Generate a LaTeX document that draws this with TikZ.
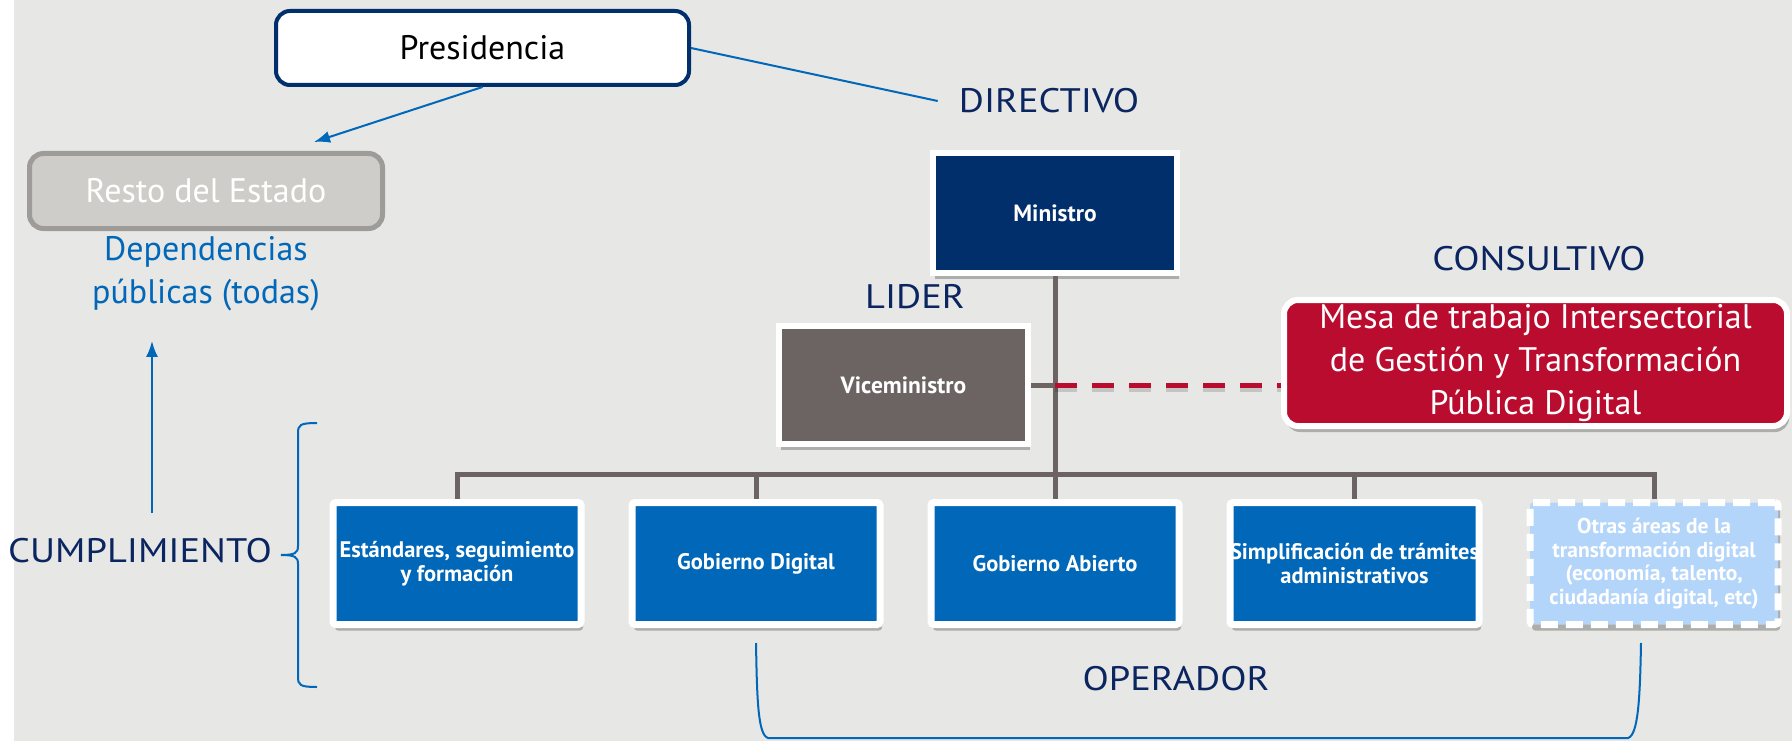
\documentclass[tikz,border=0pt]{standalone}
\usepackage{fontspec}
\setmainfont{PT Sans}
\newfontfamily\anchas[FakeStretch=1.13]{PT Sans}
\usetikzlibrary{positioning,calc,shadows,arrows.meta}
\definecolor{fondo}{HTML}{E7E7E5}
\definecolor{marino}{HTML}{002F6C}
\definecolor{tinta}{HTML}{0B2560}
\definecolor{azul}{HTML}{0067B9}
\definecolor{pardo}{HTML}{6B6462}
\definecolor{carmin}{HTML}{BA0C2F}
\definecolor{celeste}{HTML}{B4D5FA}
\definecolor{piedra}{HTML}{CFCDC9}
\definecolor{borde}{HTML}{9D9C99}
\tikzset{
  pr/.style={rectangle, rounded corners=14pt, minimum width=413pt, minimum height=74pt, text centered, draw=marino, line width=4pt, fill=white, font=\fontsize{34}{40}\selectfont},
  gr/.style={rectangle, rounded corners=14pt, minimum width=353pt, minimum height=75pt, text centered, draw=borde, line width=5pt, fill=piedra, text=white, font=\fontsize{34}{40}\selectfont},
  sb/.style={drop shadow={shadow xshift=2pt, shadow yshift=-6pt, opacity=.25, fill=black}},
  jf/.style={rectangle, minimum width=244pt, minimum height=120pt, text centered, draw=white, line width=6pt, fill=marino, text=white, font=\fontsize{23.5}{24}\bfseries, sb},
  vc/.style={jf, minimum width=249pt, minimum height=118pt, fill=pardo},
  ms/.style={rectangle, rounded corners=14pt, minimum width=503pt, minimum height=126pt, align=center, draw=white, line width=6pt, fill=carmin, text=white, font=\fontsize{34}{43}\selectfont, sb},
  op/.style={rectangle, rounded corners=3pt, minimum width=248pt, minimum height=122pt, inner xsep=0pt, align=center, draw=white, line width=7pt, fill=azul, text=white, font=\fontsize{22.5}{24}\bfseries, sb},
  ot/.style={op, fill=celeste, dash pattern=on 17pt off 8pt, font=\fontsize{21.5}{23.5}\bfseries},
  etq/.style={inner sep=0pt, text=tinta, font=\fontsize{34}{40}\anchas},
  dep/.style={inner sep=0pt, align=center, text=azul, font=\fontsize{34}{43}\selectfont},
  tr/.style={draw=pardo, line width=5pt},
  rojo/.style={draw=carmin, line width=5pt, dash pattern=on 22pt off 15pt, preaction={draw=black, opacity=.15, line width=5pt, dash pattern=on 22pt off 15pt, transform canvas={yshift=-4pt}}},
  fino/.style={draw=azul, line width=2pt},
  flecha/.style={fino, -{Latex[length=16pt,width=12pt]}},
  node distance=44pt
}
\begin{document}
\begin{tikzpicture}[x=1pt,y=-1pt]
	\useasboundingbox (0,0) rectangle (1792,741);
	\fill[white] (0,0) rectangle (14,741);
	\fill[fondo] (14,0) rectangle (1792,741);
	%
	\node[pr] (pres) at (482.5,48) {Presidencia};
	\node[gr] (resto) at (206,191) {Resto del Estado};
	\node[dep, below=5pt of resto] (dep) {Dependencias\\públicas (todas)};
	\node[etq] (dir) at (1049,101) {DIRECTIVO};
	\node[jf] (min) at (1055,213) {Ministro};
	\node[etq] (lid) at (915,297) {LIDER};
	\node[etq] (con) at (1539,259) {CONSULTIVO};
	\node[vc] (vice) at (903.5,385) {Viceministro};
	\node[ms] (mesa) at (1535.5,363) {Mesa de trabajo Intersectorial\\de Gestión y Transformación\\Pública Digital};
	%
	\node[op] (ga) at (1055,563.5) {Gobierno Abierto};
	\node[op, left=of ga] (gd) {Gobierno Digital};
	\node[op, left=of gd] (est) {Estándares, seguimiento\\y formación};
	\node[op, right=of ga] (sim) {Simplificación de trámites\\administrativos};
	\node[ot, right=of sim] (otr) {Otras áreas de la\\transformación digital\\(economía, talento,\\ciudadanía digital, etc)};
	\node[etq] (cum) at (140,551) {CUMPLIMIENTO};
	\node[etq] (ope) at (1176,679) {OPERADOR};
	%
	\coordinate (bus) at (0,474);
	\draw[tr] (min.south) -- (min.south |- bus);
	\draw[tr, line cap=rect] (est.north |- bus) -- (otr.north |- bus);
	\foreach \n in {est,gd,ga,sim,otr}
		\draw[tr] (\n.north |- bus) -- (\n.north);
	\draw[tr] (vice.east) -- (vice.east -| min.south);
	\draw[rojo] (vice.east -| min.south) -- (vice.east -| mesa.west);
	%
	\draw[fino] (pres.east) -- ([xshift=-21pt]dir.west);
	\draw[flecha] (pres.south) -- ($(resto.north)+(108,-9)$);
	\coordinate (depb) at ($(dep.south)+(0,30)$);
	\coordinate (cb) at ([xshift=12pt,yshift=25pt]cum.north);
	\draw[flecha] (cb) -- (cb |- depb);
	% llaves
	\draw[fino] (317,423) .. controls (300,423) and (298,425) .. (298,433) -- (298,546)
		.. controls (298,553) and (295,555) .. (281,555)
		.. controls (295,555) and (298,557) .. (298,564) -- (298,677)
		.. controls (298,685) and (300,687) .. (317,687);
	\draw[fino] (756,643) .. controls (757,700) and (758,735) .. (768,738) -- (1628,738)
		.. controls (1638,735) and (1640,700) .. (1641,643);
\end{tikzpicture}
\end{document}
